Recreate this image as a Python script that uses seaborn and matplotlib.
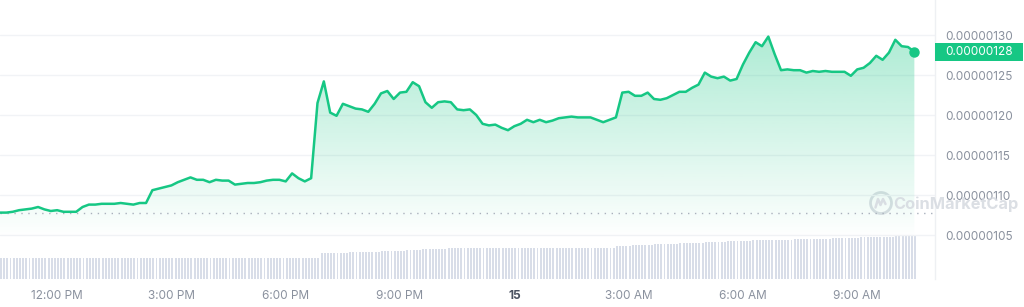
import numpy as np
import pandas as pd
import matplotlib
matplotlib.use("Agg")
import matplotlib.pyplot as plt
import matplotlib.dates as mdates
from matplotlib.patches import Rectangle, Circle
from matplotlib.lines import Line2D
from matplotlib.colors import to_rgb
from matplotlib.transforms import blended_transform_factory
import seaborn as sns

# ---------------- data ----------------
price_start = "2023-11-14 10:30"
# price in units of 1e-8, sampled every 10 minutes
price_e8 = [
    107.8, 107.8, 107.9, 108.1, 108.2, 108.3, 108.5, 108.2, 108.0, 108.1,
    107.9, 107.9, 107.9, 108.5, 108.8, 108.8, 108.9, 108.9, 108.9, 109.0,
    108.9, 108.8, 109.0, 109.0, 110.6, 110.8, 111.0, 111.2, 111.6, 111.9,
    112.2, 111.9, 111.9, 111.6, 111.9, 111.8, 111.8, 111.3, 111.4, 111.5,
    111.5, 111.6, 111.8, 111.9, 111.9, 111.7, 112.7, 112.1, 111.7, 112.1,
    121.5, 124.2, 120.3, 119.9, 121.4, 121.1, 120.8, 120.7, 120.4, 121.4,
    122.7, 123.0, 122.0, 122.8, 122.9, 124.1, 123.6, 121.6, 120.9, 121.6,
    121.7, 121.6, 120.7, 120.6, 120.7, 120.0, 118.9, 118.7, 118.8, 118.4,
    118.1, 118.6, 118.9, 119.4, 119.1, 119.4, 119.1, 119.3, 119.6, 119.7,
    119.8, 119.7, 119.7, 119.7, 119.4, 119.1, 119.4, 119.7, 122.8, 122.9,
    122.4, 122.4, 122.8, 122.0, 121.9, 122.1, 122.5, 122.9, 122.9, 123.4,
    123.8, 125.3, 124.8, 124.6, 124.8, 124.3, 124.5, 126.3, 127.8, 129.1,
    128.6, 129.8, 127.6, 125.6, 125.7, 125.6, 125.6, 125.3, 125.5, 125.4,
    125.5, 125.4, 125.4, 125.4, 124.9, 125.7, 125.9, 126.5, 127.4, 126.9,
    127.8, 129.4, 128.6, 128.5, 127.9,
]
# rolling 24h volume (relative units), sampled every 5 minutes
volume = [
    20.7, 20.7, 20.7, 20.7, 20.7, 20.7, 20.7, 20.7, 20.7, 20.7, 20.7, 20.7,
    20.7, 20.7, 20.7, 20.7, 20.7, 20.7, 20.7, 20.7, 20.7, 20.7, 20.7, 20.7,
    20.7, 20.7, 20.7, 20.7, 20.7, 20.7, 20.7, 20.7, 20.7, 20.7, 20.7, 20.7,
    20.7, 20.7, 20.7, 20.7, 20.7, 20.7, 20.7, 20.7, 20.7, 20.7, 20.7, 20.7,
    20.7, 20.7, 20.7, 20.7, 20.7, 20.7, 20.7, 20.7, 20.7, 20.7, 20.7, 20.7,
    20.7, 20.7, 20.7, 20.7, 20.7, 20.7, 20.7, 20.7, 20.7, 20.7, 20.7, 20.7,
    20.7, 20.7, 20.7, 20.7, 20.7, 20.7, 20.7, 20.7, 20.7, 20.7, 20.7, 20.7,
    20.7, 20.7, 20.7, 20.7, 20.7, 20.7, 20.7, 20.7, 20.7, 20.7, 20.7, 20.7,
    20.7, 20.7, 20.7, 20.7, 20.7, 25.7, 25.8, 25.9, 26.0, 26.1, 26.2, 26.3,
    26.4, 26.5, 26.6, 27.0, 27.1, 27.1, 27.2, 27.3, 27.3, 27.4, 27.5, 27.5,
    27.6, 27.7, 27.7, 27.8, 27.9, 27.9, 28.0, 28.5, 28.7, 28.9, 29.1, 29.3,
    29.5, 29.7, 29.9, 30.1, 30.3, 30.4, 30.5, 30.5, 30.5, 30.6, 30.6, 30.6,
    30.6, 30.6, 30.7, 30.6, 30.6, 30.7, 30.7, 30.6, 30.7, 30.7, 30.7, 30.6,
    30.7, 30.7, 30.7, 30.7, 30.6, 30.7, 30.7, 30.7, 30.7, 30.7, 30.6, 30.7,
    30.7, 30.7, 30.6, 30.7, 30.7, 30.7, 30.8, 30.7, 30.7, 30.7, 30.8, 30.7,
    30.7, 30.8, 30.7, 30.7, 30.7, 30.8, 30.7, 30.7, 30.8, 30.7, 30.7, 30.7,
    30.8, 30.8, 33.0, 33.1, 33.3, 33.4, 33.5, 33.7, 33.8, 33.9, 34.0, 34.2,
    34.3, 34.4, 34.6, 34.7, 34.8, 35.0, 35.1, 35.2, 35.3, 35.5, 35.6, 35.7,
    35.9, 36.0, 36.1, 36.3, 36.4, 36.5, 36.6, 36.8, 36.9, 37.0, 37.2, 37.3,
    37.4, 37.6, 37.7, 37.8, 37.9, 38.1, 38.2, 38.3, 38.5, 38.6, 38.7, 38.9,
    39.0, 39.1, 39.2, 39.3, 39.4, 39.4, 39.4, 39.5, 39.5, 39.5, 39.6, 39.6,
    39.7, 39.7, 39.8, 39.9, 40.0, 40.1, 40.2, 40.3, 40.4, 40.5, 40.6, 40.8,
    40.9, 41.0, 41.1, 41.2, 41.3, 41.4, 41.5, 41.6, 41.7, 41.8, 41.8, 41.9,
    42.0, 42.1, 42.2, 42.3, 42.4, 42.5, 42.6, 42.7, 42.8, 42.9, 43.0, 43.0,
    43.0,
]
y_ticks = [105, 110, 115, 120, 125, 130]
x_tick_times = ["2023-11-14 12:00", "2023-11-14 15:00", "2023-11-14 18:00",
                "2023-11-14 21:00", "2023-11-15 00:00", "2023-11-15 03:00",
                "2023-11-15 06:00", "2023-11-15 09:00"]
x_tick_labels = ["12:00 PM", "3:00 PM", "6:00 PM", "9:00 PM", "15",
                 "3:00 AM", "6:00 AM", "9:00 AM"]
last_label = "0.00000128"
watermark = "CoinMarketCap"

# ---------------- style ----------------
GREEN = "#16c784"
GRID = "#f1f3f6"
TXT = "#8a919e"
sns.set_theme(style="white")
plt.rcParams["font.family"] = ["Inter", "DejaVu Sans"]

times = pd.date_range(price_start, periods=len(price_e8), freq="10min")
vtimes = pd.date_range(price_start, periods=len(volume), freq="5min")
df = pd.DataFrame({"time": times, "price": price_e8})

W, H = 1024, 307
fig = plt.figure(figsize=(W / 100, H / 100), dpi=100)
fig.patch.set_facecolor("white")
ax = fig.add_axes([0, 28 / H, 935 / W, 279 / H])
ax2 = ax.twinx()

# volume bars
ax2.bar(vtimes, volume, width=3.0 / 1440, align="edge", color="#d8dde8", linewidth=0)
ax2.set_ylim(0, 279)
ax2.set_yticks([])
for s in ax2.spines.values():
    s.set_visible(False)
ax2.patch.set_visible(False)
ax.set_zorder(ax2.get_zorder() + 1)
ax.patch.set_visible(False)

YMIN, YMAX = 99.5, 134.375

# price line
sns.lineplot(data=df, x="time", y="price", ax=ax, color=GREEN, linewidth=1.8, zorder=4)

# gradient fill under the line
poly = ax.fill_between(times, price_e8, YMIN, facecolor="none", edgecolor="none")
vals = np.linspace(YMAX, YMIN, 300)
grad = np.zeros((300, 1, 4))
grad[..., :3] = to_rgb(GREEN)
grad[:, 0, 3] = np.clip(0.34 * (vals - 104.5) / (129.5 - 104.5), 0, 0.34)
x0, x1 = mdates.date2num([times[0], times[-1]])
im = ax.imshow(grad, aspect="auto", extent=[x0, x1, YMIN, YMAX], origin="upper", zorder=2)
im.set_clip_path(poly.get_paths()[0], transform=ax.transData)

# dotted opening-price reference
ax.axhline(price_e8[0], color="#a9b0bc", lw=1.0, ls=(0, (1, 4)), zorder=3)

# last point marker
ax.plot([times[-1]], [price_e8[-1]], "o", color=GREEN, ms=6.5, zorder=5)

# axes limits / ticks
ax.set_xlim(pd.Timestamp("2023-11-14 10:30"), pd.Timestamp("2023-11-15 11:02:30"))
ax.set_ylim(YMIN, YMAX)
ax.set_xlabel("")
ax.set_ylabel("")
ax.yaxis.tick_right()
ax.set_yticks(y_ticks)
ax.set_yticklabels([f"{v * 1e-8:.8f}" for v in y_ticks])
ax.set_xticks(pd.to_datetime(x_tick_times))
ax.set_xticklabels(x_tick_labels)
ax.tick_params(axis="both", length=0, labelsize=8.5, colors=TXT)
ax.tick_params(axis="y", pad=7.5)
ax.tick_params(axis="x", pad=8)
for lab in ax.get_xticklabels():
    if lab.get_text() == "15":
        lab.set_fontweight("bold")
        lab.set_color("#4a5261")
ax.grid(axis="y", color=GRID, lw=1)
ax.grid(axis="x", visible=False)
for name, s in ax.spines.items():
    s.set_visible(name == "right")
ax.spines["right"].set_color("#eef0f3")
ax.spines["right"].set_linewidth(1)

# current price tag
trans = blended_transform_factory(ax.transAxes, ax.transData)
ax.add_patch(Rectangle((1.0, price_e8[-1] - 1.125), 88 / 935, 2.25, transform=trans,
                       facecolor=GREEN, edgecolor="none", clip_on=False, zorder=6))
ax.text(1.0 + 10 / 935, price_e8[-1], last_label, transform=trans, color="white",
        fontsize=8.5, va="center", ha="left", zorder=7, clip_on=False)

# watermark
wm_col = "#d3d7de"
fig.text(893 / W, 1 - 204 / H, watermark, fontsize=11.8, fontweight="bold",
         color=wm_col, alpha=0.8, va="center", ha="left", zorder=3)
cx, cy = 881 / 100, (H - 203) / 100
fig.add_artist(Circle((cx, cy), 0.105, transform=fig.dpi_scale_trans, fill=False,
                      edgecolor=wm_col, lw=2.0, alpha=0.8))
mx = [cx - 0.055, cx - 0.03, cx - 0.005, cx + 0.02, cx + 0.045]
my = [cy - 0.045, cy + 0.04, cy - 0.02, cy + 0.04, cy - 0.01]
fig.add_artist(Line2D(mx, my, transform=fig.dpi_scale_trans, color=wm_col, lw=1.8,
                      alpha=0.8, solid_joinstyle="round", solid_capstyle="round"))

fig.savefig("out.png", dpi=100, facecolor="white")
